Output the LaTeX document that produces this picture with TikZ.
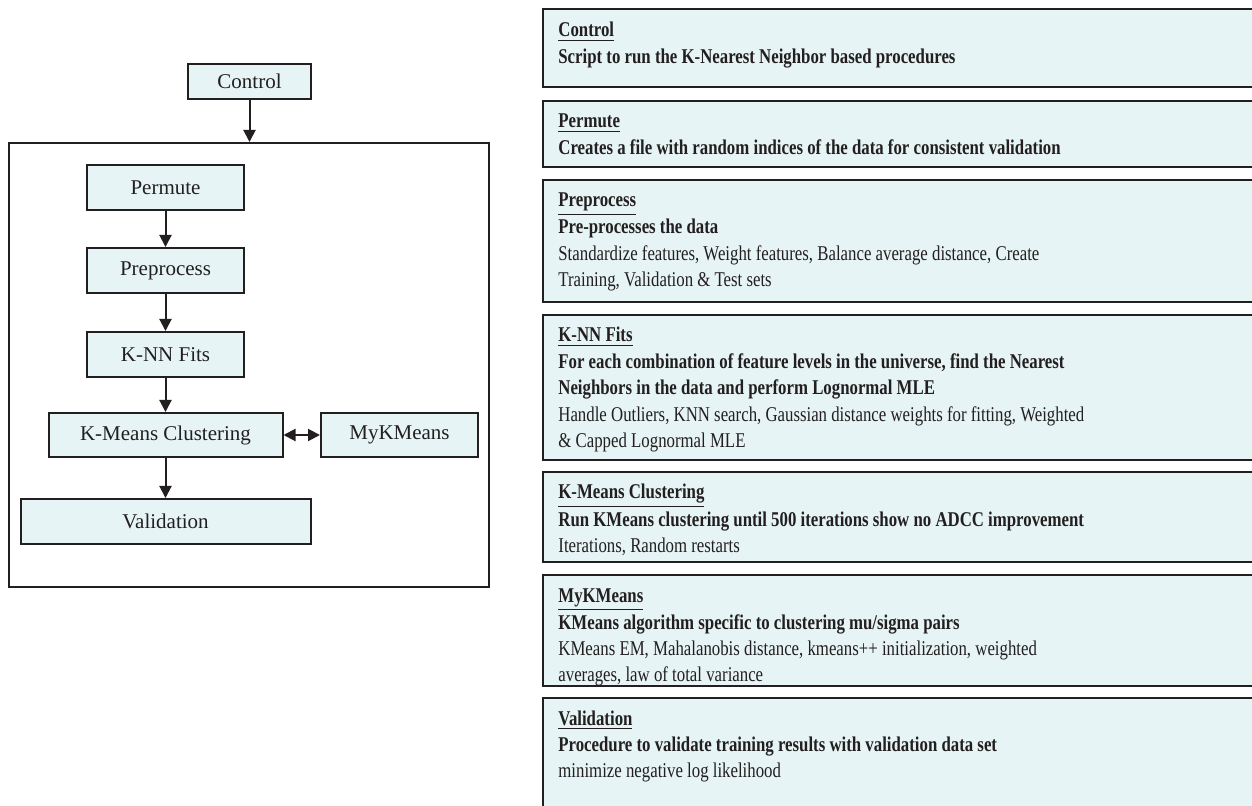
\documentclass[tikz,border=0pt]{standalone}
\usepackage{xcolor}
\usepackage{graphicx}
\usepackage{fontspec}
\setmainfont{Liberation Serif}
\usepackage{tikz}
\usetikzlibrary{shapes, arrows.meta}

\definecolor{boxfill}{RGB}{230,244,245}
\definecolor{inkgray}{RGB}{35,31,32}

% narrow description lines
\newcommand{\desclines}[1]{\scalebox{0.8}[1]{\begin{tabular}[t]{@{}l@{}}#1\end{tabular}}}

\tikzset{
  flowbox/.style={draw=inkgray, fill=boxfill, line width=1pt, inner sep=0pt, font=\fontsize{10.5}{12}\selectfont, text=inkgray},
  descbox/.style={draw=inkgray, fill=boxfill, line width=1pt},
  desctext/.style={anchor=base west, inner sep=0pt, text=inkgray, font=\fontsize{10.5}{13.2}\selectfont},
  flowarrow/.style={draw=inkgray, line width=1pt, -{Triangle[length=6pt,width=6pt]}},
  dblarrow/.style={draw=inkgray, line width=1pt, {Triangle[length=6pt,width=6pt]}-{Triangle[length=6pt,width=6pt]}}
}

\begin{document}
\begin{tikzpicture}[x=0.5pt,y=0.5pt,yscale=-1,xscale=1]
\useasboundingbox (0,0) rectangle (1252,806);

%Outer frame
\node [draw=inkgray, line width=1pt, minimum width=240pt, minimum height=222pt, inner sep=0pt] (frame) at (249,365) {};

%Flow boxes
\node [flowbox, minimum width=61.5pt, minimum height=17.5pt] (ctl) at (249.5,81.5) {Control};
\node [flowbox, minimum width=78.5pt, minimum height=22.5pt] (perm) at (165.5,187.5) {Permute};
\node [flowbox, minimum width=78.5pt, minimum height=22.5pt] (prep) at (165.5,270.5) {Preprocess};
\node [flowbox, minimum width=78.5pt, minimum height=22.5pt] (knn) at (165.5,354.5) {K-NN Fits};
\node [flowbox, minimum width=117pt, minimum height=22pt] (kmc) at (165.5,435) {K-Means Clustering};
\node [flowbox, minimum width=78.5pt, minimum height=22pt] (mykm) at (399.5,435) {MyKMeans};
\node [flowbox, minimum width=145pt, minimum height=22.5pt] (valid) at (165.5,521.5) {Validation};

%Connectors
\draw [flowarrow] (ctl) -- (ctl |- frame.north);
\draw [flowarrow] (perm) -- (prep);
\draw [flowarrow] (prep) -- (knn);
\draw [flowarrow] (knn) -- (kmc);
\draw [flowarrow] (kmc) -- (valid);
\draw [dblarrow] (kmc) -- (mykm);

%Description boxes (open to the right)
\draw [descbox] (543,9) rectangle (1262,87);
\draw [descbox] (543,101) rectangle (1262,167);
\draw [descbox] (543,180) rectangle (1262,302);
\draw [descbox] (543,315) rectangle (1262,460);
\draw [descbox] (543,472) rectangle (1262,562);
\draw [descbox] (543,575) rectangle (1262,686);
\draw [descbox] (543,698) rectangle (1262,816);

% Text Node
\node [desctext] (tctl) at (558,37) {\desclines{\textbf{\underline{Control}}\\
\textbf{Script to run the K-Nearest Neighbor based procedures}}};
% Text Node
\node [desctext] (tperm) at (558,128) {\desclines{\textbf{\underline{Permute}}\\
\textbf{Creates a file with random indices of the data for consistent validation}}};
% Text Node
\node [desctext] (tprep) at (558,207) {\desclines{\textbf{\underline{Preprocess}}\\
\textbf{Pre-processes the data}\\
Standardize features, Weight features, Balance average distance, Create\\
Training, Validation \& Test sets}};
% Text Node
\node [desctext] (tknn) at (558,342) {\desclines{\textbf{\underline{K-NN Fits}}\\
\textbf{For each combination of feature levels in the universe, find the Nearest}\\
\textbf{Neighbors in the data and perform Lognormal MLE}\\
Handle Outliers, KNN search, Gaussian distance weights for fitting, Weighted\\
\& Capped Lognormal MLE}};
% Text Node
\node [desctext] (tkmc) at (558,499) {\desclines{\textbf{\underline{K-Means Clustering}}\\
\textbf{Run KMeans clustering until 500 iterations show no ADCC improvement}\\
Iterations, Random restarts}};
% Text Node
\node [desctext] (tmykm) at (558,602) {\desclines{\textbf{\underline{MyKMeans}}\\
\textbf{KMeans algorithm specific to clustering mu/sigma pairs}\\
KMeans EM, Mahalanobis distance, kmeans++ initialization, weighted\\
averages, law of total variance}};
% Text Node
\node [desctext] (tvalid) at (558,725) {\desclines{\textbf{\underline{Validation}}\\
\textbf{Procedure to validate training results with validation data set}\\
minimize negative log likelihood}};

\end{tikzpicture}
\end{document}
